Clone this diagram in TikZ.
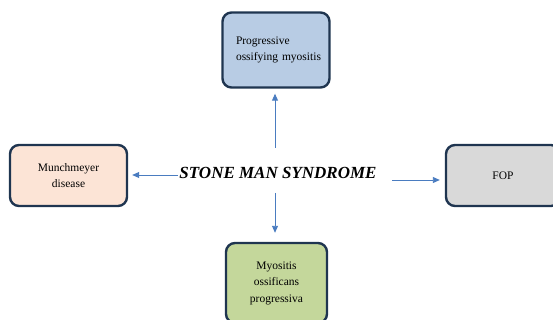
\documentclass[tikz,border=0pt]{standalone}
\usepackage{fontspec}
\setmainfont{Liberation Serif}
\usetikzlibrary{arrows.meta}
\definecolor{edgec}{HTML}{1F3550}
\definecolor{arrc}{HTML}{4A7CC0}
\definecolor{topf}{HTML}{B8CCE4}
\definecolor{leftf}{HTML}{FCE4D6}
\definecolor{rightf}{HTML}{D9D9D9}
\definecolor{botf}{HTML}{C4D79B}
\tikzset{
  box/.style={draw=edgec, line width=2.4pt, rounded corners=9pt, inner sep=0pt, font=\fontsize{11.5}{16.5}\selectfont},
  arr/.style={draw=arrc, line width=0.9pt, -{Triangle[length=7pt,width=6pt]}}
}
\begin{document}
\begin{tikzpicture}[x=1pt,y=-1pt]
\useasboundingbox (0,0) rectangle (553,320);
\clip (0,0) rectangle (553,320);
\node[box, fill=topf, minimum width=107pt, minimum height=75pt, align=left, text width=80pt] (top) at (276,50) {Progressive\\\mbox{ossifying myositis}};
\node[box, fill=leftf, minimum width=117pt, minimum height=61pt, align=center] (left) at (68.5,175.5) {Munchmeyer\\disease};
\node[box, fill=rightf, minimum width=114pt, minimum height=61pt, align=center] (right) at (503,175.5) {FOP};
\node[box, fill=botf, minimum width=101pt, minimum height=80pt, align=center] (bot) at (276.5,283) {Myositis\\ossificans\\progressiva};
\node[font=\fontsize{17}{20}\selectfont\bfseries\itshape] (c) at (278,173) {STONE MAN SYNDROME};
\coordinate (cu) at (275,148);
\coordinate (cd) at (275,193);
\coordinate (cl) at (178,175);
\coordinate (cr) at (392,180);
\draw[arr, shorten >=5pt] (cu) -- (cu |- top.south);
\draw[arr, shorten >=9pt] (cd) -- (cd |- bot.north);
\draw[arr, shorten >=4pt] (cl) -- (cl -| left.east);
\draw[arr, shorten >=5pt] (cr) -- (cr -| right.west);
\end{tikzpicture}
\end{document}
